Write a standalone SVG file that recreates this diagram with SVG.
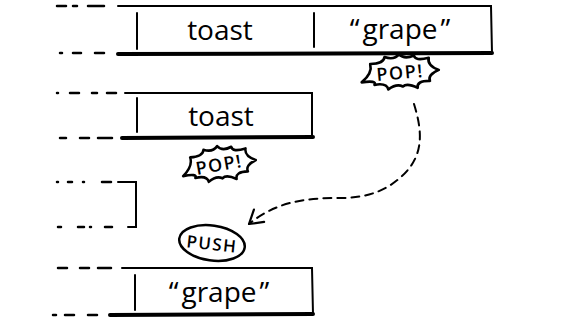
<svg xmlns="http://www.w3.org/2000/svg" width="576" height="324" viewBox="0 0 576 324">
  <defs>
    <style>
      .thin { stroke: #000; stroke-width: 2; fill: none; stroke-linecap: round; }
      .thick { stroke: #000; stroke-width: 4; fill: none; stroke-linecap: round; }
      .dash { stroke: #000; stroke-width: 2.5; fill: none; stroke-linecap: round; }
      .val { font-family: "Open Sans", "Liberation Sans", sans-serif; font-size: 28px; font-weight: 500; fill: #000; text-anchor: middle; }
      .tag { font-family: "Open Sans", "Liberation Sans", sans-serif; font-weight: 600; fill: #000; text-anchor: middle; }
      .burst { fill: #fff; stroke: #000; stroke-width: 2.5; stroke-linejoin: round; }
      .conn { fill: none; stroke: #000; stroke-width: 2; stroke-dasharray: 8 6; stroke-linecap: round; }
    </style>
    <path id="burstShape" class="burst" d="M -36,8 Q -25,-0.4 -27,-9 Q -14,-8.4 -13,-15 Q -4.2,-11.2 1,-17 Q 5.6,-11.2 15,-15 Q 15.4,-9.4 29,-12 Q 26.8,-4.8 38,0 Q 26.8,4 29,10 Q 16.1,9.1 17,16 Q 7,10.5 3,14 Q -2.8,10.5 -11,16 Q -12.2,9.5 -24,11 Q -21,6.7 -36,8 Z"/>
    <marker id="arrow" markerUnits="userSpaceOnUse" markerWidth="30" markerHeight="30" viewBox="-20 -15 30 30" refX="0" refY="0" orient="auto" overflow="visible">
      <path d="M -13,-8 L 0,0 L -13,8" fill="none" stroke="#000" stroke-width="2.2" stroke-linecap="round" stroke-linejoin="round"/>
    </marker>
  </defs>

  <rect width="576" height="324" fill="#fff"/>

  <!-- Row 1: toast | "grape" -->
  <g id="row1">
    <path class="dash" d="M57,6 L66,6 M73,6 L77,6 M88,6 L104,6"/>
    <path class="dash" d="M60,53 L62,53 M73,53 L81,53 M95,53 L104,53"/>
    <path class="thin" d="M118,6 L491,6 L492,53"/>
    <path class="thick" d="M118,54 L492,53"/>
    <path class="thin" d="M137,13 L137,49"/>
    <path class="thin" d="M314,13 L314,47"/>
    <text class="val" x="220" y="40">toast</text>
    <text class="val" x="400" y="39">“<tspan dx="3">grape</tspan><tspan dx="3">”</tspan></text>
  </g>

  <!-- Row 2: toast -->
  <g id="row2">
    <path class="dash" d="M57,93 L58,93 M70,93 L79,93 M92,93 L97,93 M107,93 L116,93"/>
    <path class="dash" d="M60,138 L66,138 M80,138 L89,138 M98,138 L112,138"/>
    <path class="thin" d="M125,93 L312,93 L312,137"/>
    <path class="thick" d="M122,138 L313,137"/>
    <path class="thin" d="M137,98 L137,132"/>
    <text class="val" x="221" y="126">toast</text>
  </g>

  <!-- Row 3: empty -->
  <g id="row3">
    <path class="dash" d="M57,182 L58,182 M68,182 L72,182 M83,182 L84,182 M102,182 L111,182"/>
    <path class="dash" d="M58,227 L61,227 M78,227 L84,227 M90,227 L91,227 M105,227 L112,227"/>
    <path class="thin" d="M118,182 L136,182 L136,227 L128,227"/>
  </g>

  <!-- Row 4: "grape" -->
  <g id="row4">
    <path class="dash" d="M58,268 L67,268 M80,268 L89,268 M98,268 L111,268"/>
    <path class="dash" d="M53,315 L56,315 M65,315 L74,315 M88,315 L97,315"/>
    <path class="thin" d="M122,268 L312,268 L313,314"/>
    <path class="thick" d="M110,315 L313,314"/>
    <path class="thin" d="M135,275 L135,310"/>
    <text class="val" x="219" y="302">“<tspan dx="3">grape</tspan><tspan dx="3">”</tspan></text>
  </g>

  <!-- POP bursts -->
  <g id="pop1">
    <use href="#burstShape" transform="translate(399,72) rotate(-3) scale(1.05)"/>
    <text class="tag" x="400" y="79" font-size="18" letter-spacing="1.5" transform="rotate(-5 400 72)">POP!</text>
  </g>
  <g id="pop2">
    <use href="#burstShape" transform="translate(218,164) rotate(-6) scale(1,1.05)"/>
    <text class="tag" x="219" y="171" font-size="18" letter-spacing="1.5" transform="rotate(-10 219 164)">POP!</text>
  </g>

  <!-- PUSH -->
  <g id="push">
    <ellipse cx="212" cy="243" rx="33" ry="17.5" transform="rotate(8 212 243)" fill="#fff" stroke="#000" stroke-width="2.5"/>
    <text class="tag" x="212" y="250" font-size="17" letter-spacing="1.5" transform="rotate(6 212 244)">PUSH</text>
  </g>

  <!-- Connectors -->
  <g id="connectors">
    <path class="conn" marker-end="url(#arrow)" d="M414,104 C422,130 425,155 402,176 C385,192 365,198 340,198 C310,198 278,200 249,224"/>
  </g>
</svg>
